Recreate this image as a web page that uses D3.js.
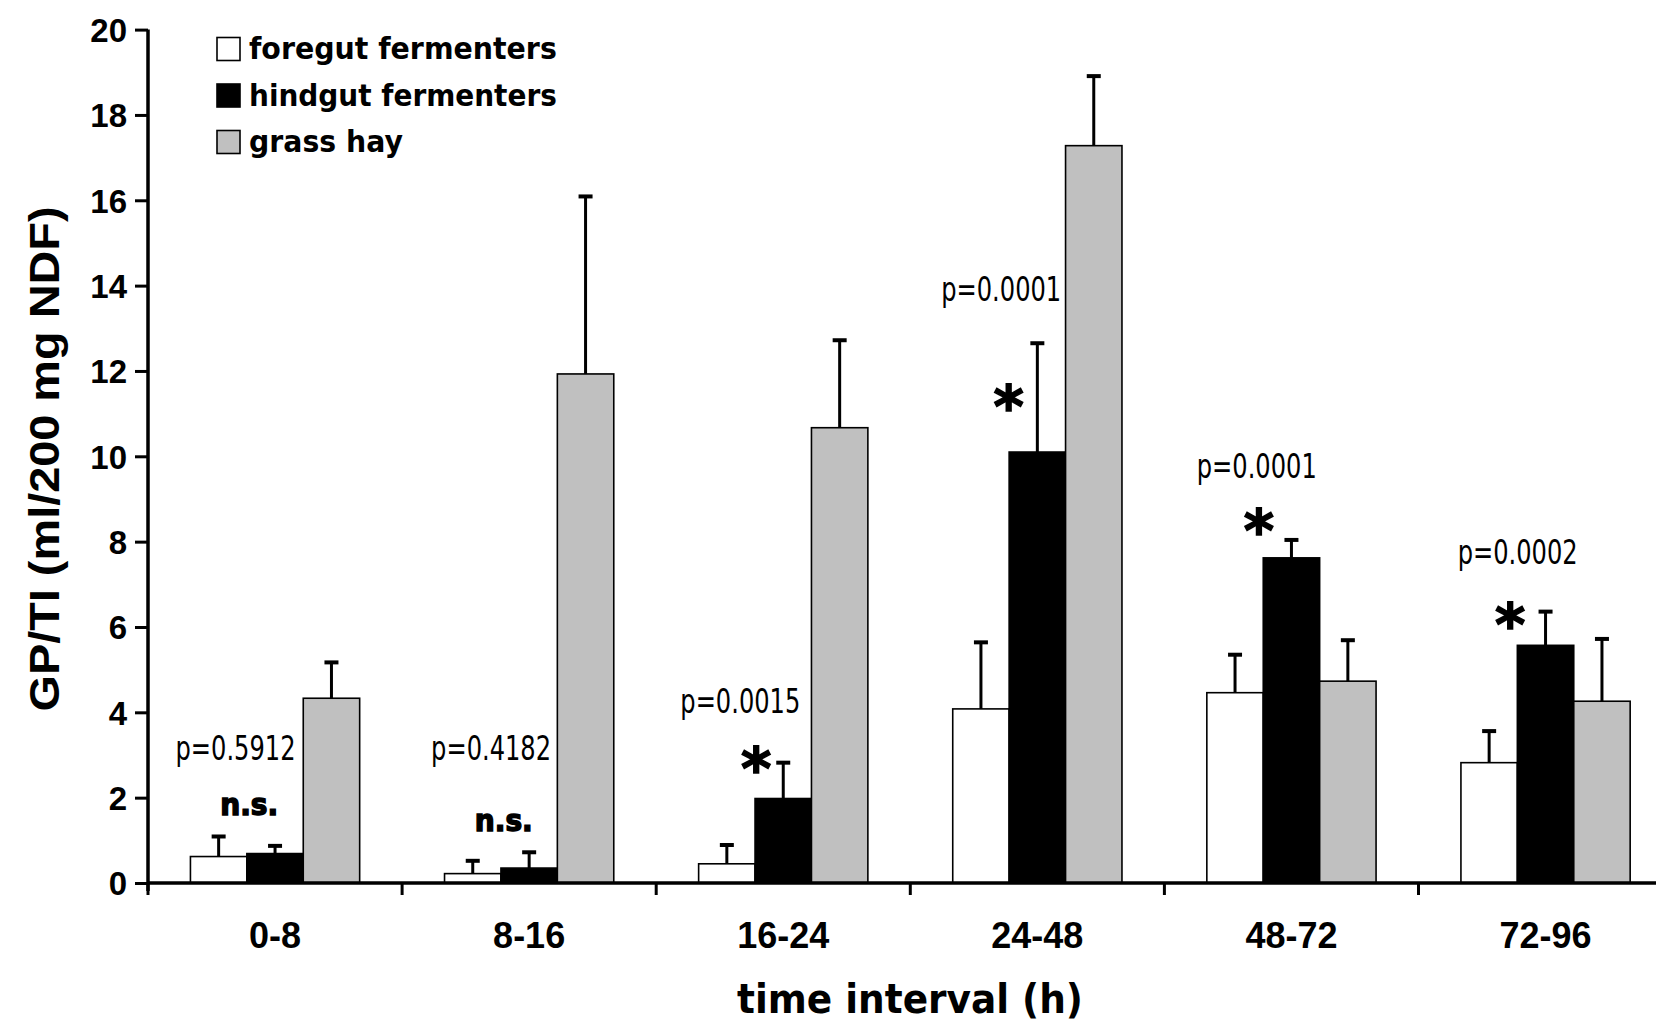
<!DOCTYPE html>
<html><head><meta charset="utf-8">
<script src="https://cdn.jsdelivr.net/npm/d3@7"></script>
<style>body{margin:0;background:#fff}svg{display:block}</style>
</head><body>
<svg id="c" width="1656" height="1022"></svg>
<script>
const categories = ["0-8","8-16","16-24","24-48","48-72","72-96"];
const seriesNames = ["foregut fermenters","hindgut fermenters","grass hay"];
const foregut = [0.62,0.22,0.45,4.08,4.46,2.82];
const foregutErr = [0.47,0.30,0.44,1.56,0.89,0.74];
const hindgut = [0.69,0.35,1.98,10.10,7.62,5.57];
const hindgutErr = [0.18,0.37,0.84,2.55,0.42,0.79];
const grass = [4.33,11.93,10.67,17.28,4.73,4.26];
const grassErr = [0.84,4.16,2.05,1.63,0.96,1.46];
const yTicks = [0,2,4,6,8,10,12,14,16,18,20];
const pLabels = ["p=0.5912","p=0.4182","p=0.0015","p=0.0001","p=0.0001","p=0.0002"];
const sigLabels = ["n.s.","n.s.","*","*","*","*"];
const fills = ["#ffffff","#000000","#c0c0c0"];

const svg = d3.select("#c");
const x0 = 148, band = 254.1;
const x = d3.scaleBand().domain(d3.range(7)).range([x0, x0 + band*7]).paddingInner(0).paddingOuter(0);
const y = d3.scaleLinear().domain([0,20]).range([883, 29.6]);
const barW = band*0.222;
const groupW = barW*3;
const values = [foregut, hindgut, grass];
const errs = [foregutErr, hindgutErr, grassErr];
const barX = (i,s) => x(i) + (band-groupW)/2 + s*barW;

// bars
values.forEach((vals,s)=>{
  svg.append("g").selectAll("rect").data(vals).join("rect")
    .attr("x",(d,i)=>barX(i,s)).attr("y",d=>y(d))
    .attr("width",barW).attr("height",d=>y(0)-y(d))
    .attr("fill",fills[s]).attr("stroke","#000").attr("stroke-width",1.6);
  const g = svg.append("g").attr("stroke","#000").attr("stroke-width",3);
  vals.forEach((d,i)=>{
    const cx = barX(i,s)+barW/2;
    g.append("line").attr("x1",cx).attr("x2",cx).attr("y1",y(d)).attr("y2",y(d+errs[s][i]));
    g.append("line").attr("x1",cx-7).attr("x2",cx+7).attr("y1",y(d+errs[s][i])).attr("y2",y(d+errs[s][i])).attr("stroke-width",4);
  });
});

// y axis
const yAxis = svg.append("g").attr("transform",`translate(${x0},0)`)
  .call(d3.axisLeft(y).tickValues(yTicks).tickSize(13).tickPadding(8).tickSizeOuter(0));
yAxis.select(".domain").attr("stroke-width",3.5).attr("d",`M0,${y(20)}V${y(0)+8}`);
yAxis.selectAll(".tick line").attr("stroke-width",3);
yAxis.selectAll(".tick text").attr("font-family","'Liberation Sans',Arial,sans-serif").attr("font-weight","bold")
  .attr("font-size",33).attr("fill","#000").attr("dy","0.36em");

// x axis
const xAxisG = svg.append("g").attr("transform",`translate(0,${y(0)})`);
xAxisG.append("line").attr("x1",x0).attr("x2",1656).attr("y1",0).attr("y2",0).attr("stroke","#000").attr("stroke-width",3.5);
xAxisG.selectAll("line.t").data(d3.range(7)).join("line").attr("class","t")
  .attr("x1",i=>x(i)).attr("x2",i=>x(i)).attr("y1",0).attr("y2",12).attr("stroke","#000").attr("stroke-width",3);
xAxisG.selectAll("text").data(categories).join("text")
  .attr("x",(d,i)=>x(i)+band/2).attr("y",65).attr("text-anchor","middle")
  .attr("font-family","'Liberation Sans',Arial,sans-serif").attr("font-weight","bold").attr("font-size",36)
  .text(d=>d);

// axis titles
svg.append("text").attr("transform",`translate(59,459) rotate(-90)`).attr("text-anchor","middle")
  .attr("font-family","'Liberation Sans',Arial,sans-serif").attr("font-weight","bold").attr("font-size",42)
  .attr("textLength",505).attr("lengthAdjust","spacingAndGlyphs")
  .text("GP/TI (ml/200 mg NDF)");
svg.append("text").attr("x",910).attr("y",1013).attr("text-anchor","middle")
  .attr("font-family","'DejaVu Sans',sans-serif").attr("font-weight","bold").attr("font-size",41)
  .attr("textLength",346).attr("lengthAdjust","spacingAndGlyphs")
  .text("time interval (h)");

// legend
const lg = svg.append("g");
seriesNames.forEach((n,i)=>{
  const cy = 49 + i*46.5;
  lg.append("rect").attr("x",217).attr("y",cy-11.5).attr("width",23).attr("height",23)
    .attr("fill",fills[i]).attr("stroke","#000").attr("stroke-width",1.6);
  lg.append("text").attr("x",249).attr("y",cy+10).attr("font-family","'DejaVu Sans',sans-serif")
    .attr("font-weight","bold").attr("font-size",31).attr("textLength", n.length*17.1).attr("lengthAdjust","spacingAndGlyphs")
    .text(n);
});

// annotations
const k = 1656/1568;
const pPos = [[223,720],[465,720],[701,675],[948,285],[1190,453],[1437,534]];
const sPos = [[236,772],[477,787],[716,747],[955,404],[1192,522],[1430,611]];
pLabels.forEach((t,i)=>{
  svg.append("text").attr("x",pPos[i][0]*k).attr("y",pPos[i][1]*k).attr("text-anchor","middle")
    .attr("font-family","'DejaVu Sans',sans-serif").attr("font-size",33)
    .attr("textLength",120).attr("lengthAdjust","spacingAndGlyphs").text(t);
});
sigLabels.forEach((t,i)=>{
  const isStar = t==="*";
  svg.append("text").attr("x",sPos[i][0]*k).attr("y",sPos[i][1]*k).attr("text-anchor","middle")
    .attr("font-family","'DejaVu Sans',sans-serif").attr("font-weight","bold")
    .attr("font-size",isStar?58:30)
    .attr("textLength",isStar?null:58).attr("lengthAdjust","spacingAndGlyphs")
    .attr("stroke","#000").attr("stroke-width",isStar?1.5:1.5)
    .text(t);
});
</script>
</body></html>
